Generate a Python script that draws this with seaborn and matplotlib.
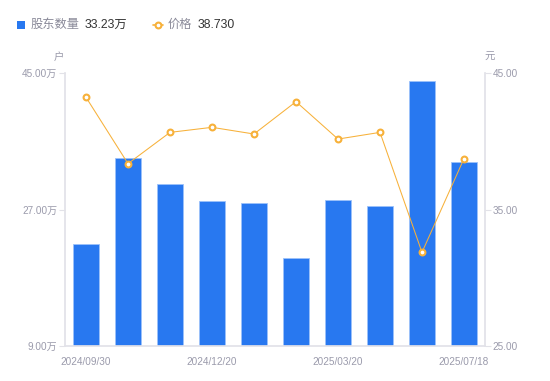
import matplotlib
matplotlib.use('Agg')
import matplotlib.pyplot as plt
import seaborn as sns
import pandas as pd
from matplotlib.lines import Line2D
from matplotlib.patches import Rectangle
from matplotlib.ticker import FuncFormatter

# data
dates = ['2024/09/30', '2024/10/31', '2024/11/29', '2024/12/20', '2024/12/31',
         '2025/02/28', '2025/03/20', '2025/03/31', '2025/06/30', '2025/07/18']
holders = [22.4, 33.8, 30.3, 28.15, 27.8, 20.6, 28.25, 27.4, 44.0, 33.23]  # 万户
price = [43.22, 38.36, 40.65, 41.02, 40.53, 42.90, 40.16, 40.65, 31.86, 38.73]
shown_dates = ['2024/09/30', '2024/12/20', '2025/03/20', '2025/07/18']

df = pd.DataFrame({'date': dates, 'holders': holders, 'price': price})

sns.set_theme(style='white')
plt.rcParams['font.family'] = ['Liberation Sans', 'Noto Sans CJK SC', 'DejaVu Sans']

BLUE = '#2878f0'
ORANGE = '#f7b13a'
GRAY = '#9a9aab'
AXIS = '#e2e2e8'

fig = plt.figure(figsize=(5.5, 3.81), dpi=100)
ax = fig.add_axes([65 / 550, 35 / 381, 420 / 550, 273 / 381])

sns.barplot(data=df, x='date', y='holders', color=BLUE, width=0.6,
            edgecolor='#9cc2fa', linewidth=0.6, saturation=1, ax=ax)
ax.set_ylim(9, 45)
ax.set_yticks([9, 27, 45])
ax.yaxis.set_major_formatter(FuncFormatter(lambda v, p: f'{v:.2f}万'))

ax2 = ax.twinx()
sns.pointplot(data=df, x='date', y='price', color=ORANGE, ax=ax2,
              markers='o', linewidth=0.75, markersize=4.2,
              markerfacecolor='white', markeredgecolor=ORANGE,
              markeredgewidth=1.5, errorbar=None)
ax2.set_ylim(25, 45)
ax2.set_yticks([25, 35, 45])
ax2.yaxis.set_major_formatter(FuncFormatter(lambda v, p: f'{v:.2f}'))

ax.set_xlim(-0.5, len(dates) - 0.5)
ax2.set_xlim(-0.5, len(dates) - 0.5)
ticks = [dates.index(d) for d in shown_dates]
ax.set_xticks(ticks)
ax.set_xticklabels(shown_dates)

for a in (ax, ax2):
    a.set_xlabel('')
    a.set_ylabel('')
    for s in a.spines.values():
        s.set_visible(False)
    a.grid(False)

ax.spines['left'].set_visible(True)
ax.spines['left'].set_color(AXIS)
ax.spines['bottom'].set_visible(True)
ax.spines['bottom'].set_color(AXIS)
ax2.spines['right'].set_visible(True)
ax2.spines['right'].set_color(AXIS)

ax.tick_params(axis='y', left=True, length=4, width=0.8, color=AXIS,
               labelsize=7.2, labelcolor=GRAY, pad=1.5)
ax.tick_params(axis='x', bottom=False, labelsize=7.2, labelcolor=GRAY, pad=2)
ax2.tick_params(axis='y', right=True, length=4, width=0.8, color=AXIS,
                labelsize=7.2, labelcolor=GRAY, pad=1.5)
ax2.tick_params(axis='x', bottom=False, labelbottom=False)

# units
fig.text(59 / 550, 1 - 57 / 381, '户', fontsize=7.5, color=GRAY, ha='center', va='center')
fig.text(490 / 550, 1 - 57 / 381, '元', fontsize=7.5, color=GRAY, ha='center', va='center')

# legend at the top
ly = 1 - 24.5 / 381
fig.add_artist(Rectangle((17 / 550, 1 - 28.5 / 381), 8 / 550, 8 / 381,
                         transform=fig.transFigure, color=BLUE, lw=0))
fig.text(31 / 550, ly, '股东数量', fontsize=8.8, color='#8a8a99', va='center')
fig.text(85 / 550, ly, f'{holders[-1]:.2f}万', fontsize=8.8, color='#333333', va='center')
fig.add_artist(Line2D([153 / 550, 163 / 550], [ly, ly], transform=fig.transFigure,
                      color=ORANGE, lw=1.2))
fig.add_artist(Line2D([158 / 550], [ly], transform=fig.transFigure, marker='o',
                      markersize=4.2, markerfacecolor='white', markeredgecolor=ORANGE,
                      markeredgewidth=1.5))
fig.text(168 / 550, ly, '价格', fontsize=8.8, color='#8a8a99', va='center')
fig.text(198 / 550, ly, f'{price[-1]:.3f}', fontsize=8.8, color='#333333', va='center')

fig.savefig('out.png', dpi=100)
